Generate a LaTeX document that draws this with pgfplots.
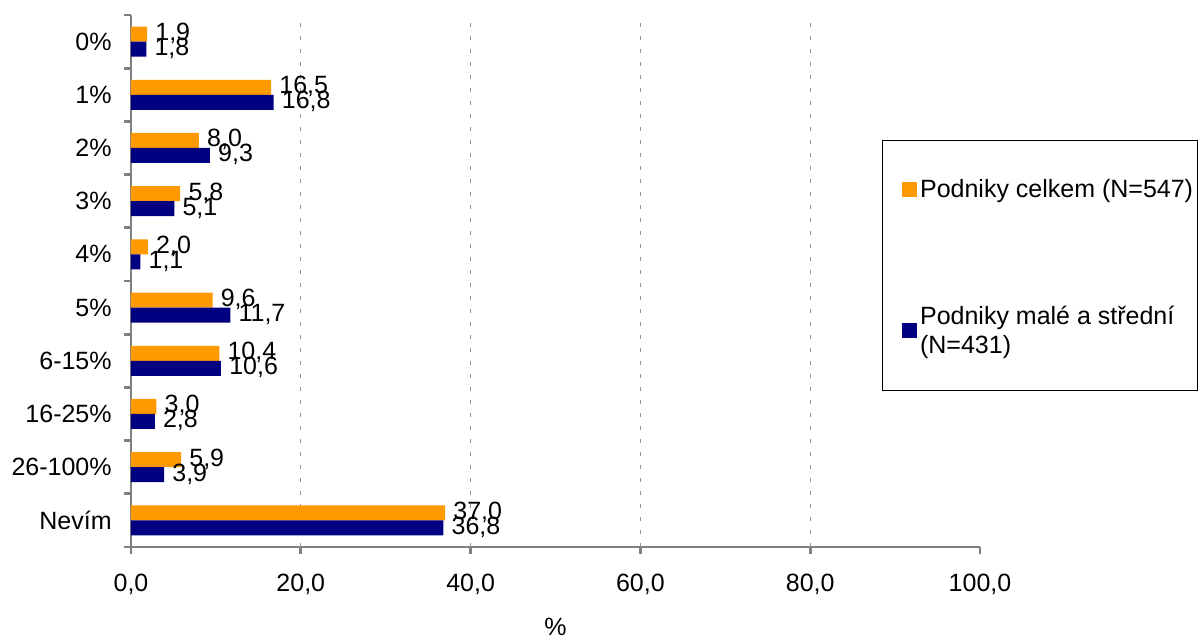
\documentclass[border=0pt]{standalone}
\usepackage{fontspec}
\setmainfont{Liberation Sans}
\usepackage{pgfplots}
\pgfplotsset{compat=1.18}
\definecolor{corange}{HTML}{FF9900}
\definecolor{cnavy}{HTML}{000080}
\definecolor{axgray}{HTML}{808080}
\begin{document}
\begin{tikzpicture}[font=\fontsize{18.75}{21.75}\selectfont]
\begin{axis}[
  at={(0,0)}, anchor=south west,
  scale only axis, width=636.75pt, height=399pt,
  xbar, bar width=11.25pt,
  xmin=0, xmax=100, ymin=-0.5, ymax=9.5,
  axis lines=left, axis line style={-, draw=axgray, line width=2pt},
  xtick={0,20,...,100}, ytick={0,...,9},
  yticklabels={Nevím,26-100\%,16-25\%,6-15\%,5\%,4\%,3\%,2\%,1\%,0\%},
  minor ytick={-0.5,0.5,...,9.5},
  tick align=outside,
  major tick length=5pt, minor tick length=5pt,
  major y tick style={draw=none},
  minor y tick style={draw=axgray, line width=2pt},
  major x tick style={draw=axgray, line width=2pt},
  extra x ticks={20,40,60,80}, extra x tick labels={},
  extra x tick style={xmajorgrids=true, major x tick style={draw=none},
     major x grid style={draw=axgray!85, line width=0.6pt, dash pattern=on 3pt off 6.75pt}},
  /pgf/number format/fixed, /pgf/number format/fixed zerofill,
  /pgf/number format/precision=1, /pgf/number format/use comma,
  /pgf/number format/assume math mode=true,
  yticklabel style={xshift=-6pt},
  xticklabel style={yshift=-12pt},
  xlabel={\%}, xlabel style={yshift=-4pt, inner ysep=0pt, text depth=0pt},
  point meta=x,
  nodes near coords,
  nodes near coords style={anchor=west, inner sep=2pt, xshift=4pt, yshift=0.5pt, text=black},
  legend cell align=left,
  legend style={at={(0.8846,0.765)}, anchor=north west, draw=black, line width=0.6pt,
     inner xsep=1.5pt, inner ysep=24.5pt, row sep=75.5pt, cells={align=left},
     /tikz/every even column/.style={column sep=2pt}},
]
\addplot[fill=corange, draw=none, bar shift=5.625pt,
  legend image code/.code={\path (0pt,0pt) (0pt,12.5pt); \fill[corange] (13.5pt,-5.6pt) rectangle (24.75pt,5.6pt);}]
  coordinates {(1.9,9) (16.5,8) (8.0,7) (5.8,6) (2.0,5) (9.6,4) (10.4,3) (3.0,2) (5.9,1) (37.0,0)};
\addplot[fill=cnavy, draw=none, bar shift=-5.625pt,
  legend image code/.code={\path (0pt,0pt); \fill[cnavy] (13.5pt,-5.6pt) rectangle (24.75pt,5.6pt);}]
  coordinates {(1.8,9) (16.8,8) (9.3,7) (5.1,6) (1.1,5) (11.7,4) (10.6,3) (2.8,2) (3.9,1) (36.8,0)};
\legend{Podniky celkem (N=547), Podniky malé a střední\\(N=431)}
\end{axis}
\pgfresetboundingbox
\useasboundingbox ([shift={(-98.25pt,-68.25pt)}]current axis.south west) rectangle ([shift={(801.75pt,410.25pt)}]current axis.south west);
\end{tikzpicture}
\end{document}
